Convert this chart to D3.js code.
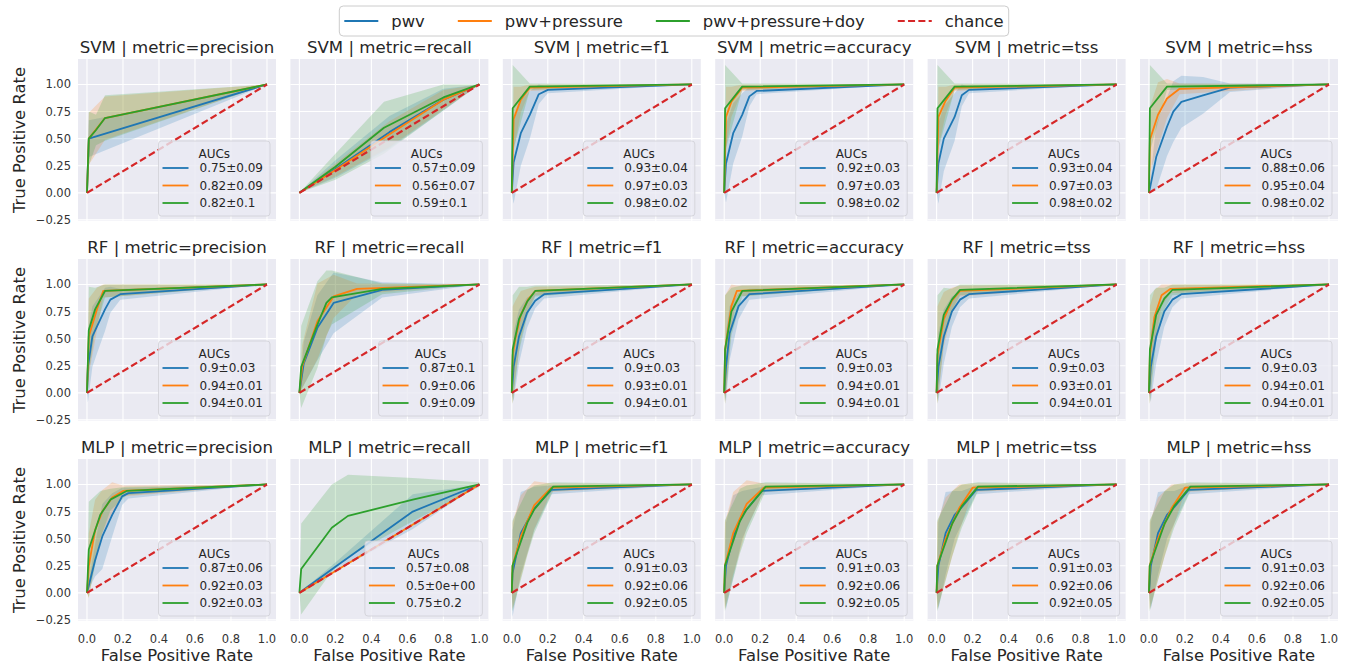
<!DOCTYPE html>
<html>
<head>
<meta charset="utf-8">
<script src="https://cdn.jsdelivr.net/npm/d3@7"></script>
<style>
    body { margin: 0; background: #fff; }
    svg text { font-family: 'DejaVu Sans', sans-serif; fill: #262626; }
</style>
</head>
<body>
<svg id="chart" width="1348" height="667"></svg>
<script>
/**
 * Data.
 * Each curve point is [false positive rate, mean true positive rate, std].
 */
const models = ['SVM', 'RF', 'MLP'];
const metrics = ['precision', 'recall', 'f1', 'accuracy', 'tss', 'hss'];
const features = ['pwv', 'pwv+pressure', 'pwv+pressure+doy'];
const xTicks = [0, 0.2, 0.4, 0.6, 0.8, 1.0];
const yTicks = [-0.25, 0, 0.25, 0.5, 0.75, 1.0];

const svmAucs = [
    ['0.75±0.09', '0.82±0.09', '0.82±0.1'],
    ['0.57±0.09', '0.56±0.07', '0.59±0.1'],
    ['0.93±0.04', '0.97±0.03', '0.98±0.02'],
    ['0.92±0.03', '0.97±0.03', '0.98±0.02'],
    ['0.93±0.04', '0.97±0.03', '0.98±0.02'],
    ['0.88±0.06', '0.95±0.04', '0.98±0.02']
];
const rfAucs = [
    ['0.9±0.03', '0.94±0.01', '0.94±0.01'],
    ['0.87±0.1', '0.9±0.06', '0.9±0.09'],
    ['0.9±0.03', '0.93±0.01', '0.94±0.01'],
    ['0.9±0.03', '0.94±0.01', '0.94±0.01'],
    ['0.9±0.03', '0.93±0.01', '0.94±0.01'],
    ['0.9±0.03', '0.94±0.01', '0.94±0.01']
];
const mlpAucs = [
    ['0.87±0.06', '0.92±0.03', '0.92±0.03'],
    ['0.57±0.08', '0.5±0e+00', '0.75±0.2'],
    ['0.91±0.03', '0.92±0.06', '0.92±0.05'],
    ['0.91±0.03', '0.92±0.06', '0.92±0.05'],
    ['0.91±0.03', '0.92±0.06', '0.92±0.05'],
    ['0.91±0.03', '0.92±0.06', '0.92±0.05']
];

const svmCurves = [
    [ // precision
        [[0, 0, 0], [0.01, 0.5, 0.17], [1, 1, 0]],
        [[0, 0, 0], [0.01, 0.5, 0.24], [0.1, 0.69, 0.2], [1, 1, 0]],
        [[0, 0, 0], [0.01, 0.5, 0.25], [0.05, 0.58, 0.14], [0.1, 0.69, 0.21], [1, 1, 0]]
    ],
    [ // recall
        [[0, 0, 0], [0.2, 0.22, 0.08], [0.5, 0.56, 0.15], [0.8, 0.86, 0.1], [1, 1, 0]],
        [[0, 0, 0], [0.2, 0.21, 0.06], [0.5, 0.54, 0.12], [0.8, 0.86, 0.09], [1, 1, 0]],
        [[0, 0, 0], [0.2, 0.24, 0.12], [0.47, 0.6, 0.24], [0.8, 0.88, 0.12], [1, 1, 0]]
    ],
    [ // f1
        [[0, 0, 0], [0.01, 0.28, 0.38], [0.05, 0.55, 0.3], [0.1, 0.72, 0.22], [0.15, 0.91, 0.09], [0.2, 0.95, 0.03], [1, 1, 0]],
        [[0, 0, 0], [0.01, 0.68, 0.3], [0.05, 0.86, 0.12], [0.1, 0.97, 0.03], [1, 1, 0]],
        [[0, 0, 0], [0.005, 0.78, 0.4], [0.1, 0.98, 0.03], [1, 1, 0]]
    ],
    [ // accuracy
        [[0, 0, 0], [0.01, 0.27, 0.36], [0.05, 0.55, 0.28], [0.1, 0.72, 0.2], [0.14, 0.89, 0.09], [0.18, 0.94, 0.03], [1, 1, 0]],
        [[0, 0, 0], [0.01, 0.7, 0.28], [0.04, 0.84, 0.14], [0.1, 0.97, 0.03], [1, 1, 0]],
        [[0, 0, 0], [0.005, 0.78, 0.4], [0.1, 0.98, 0.03], [1, 1, 0]]
    ],
    [ // tss
        [[0, 0, 0], [0.01, 0.27, 0.37], [0.04, 0.5, 0.3], [0.1, 0.7, 0.22], [0.14, 0.9, 0.1], [0.18, 0.95, 0.03], [1, 1, 0]],
        [[0, 0, 0], [0.01, 0.7, 0.28], [0.05, 0.85, 0.13], [0.1, 0.97, 0.03], [1, 1, 0]],
        [[0, 0, 0], [0.005, 0.78, 0.4], [0.1, 0.98, 0.03], [1, 1, 0]]
    ],
    [ // hss
        [[0, 0, 0], [0.04, 0.33, 0.3], [0.1, 0.61, 0.27], [0.135, 0.75, 0.28], [0.18, 0.84, 0.24], [0.3, 0.9, 0.17], [0.45, 0.97, 0.04], [1, 1, 0]],
        [[0, 0, 0], [0.005, 0.49, 0.3], [0.05, 0.72, 0.3], [0.1, 0.87, 0.18], [0.17, 0.96, 0.05], [1, 1, 0]],
        [[0, 0, 0], [0.005, 0.78, 0.4], [0.1, 0.98, 0.03], [1, 1, 0]]
    ]
];

const rfCurves = [
    [ // precision
        [[0, 0, 0], [0.005, 0.24, 0.33], [0.03, 0.52, 0.28], [0.055, 0.61, 0.25], [0.1, 0.77, 0.2], [0.13, 0.86, 0.12], [0.185, 0.91, 0.05], [1, 1, 0]],
        [[0, 0, 0], [0.01, 0.52, 0.35], [0.055, 0.77, 0.2], [0.09, 0.94, 0.06], [1, 1, 0]],
        [[0, 0, 0], [0.01, 0.58, 0.4], [0.045, 0.77, 0.2], [0.1, 0.94, 0.06], [1, 1, 0]]
    ],
    [ // recall
        [[0, 0, 0], [0.024, 0.27, 0.2], [0.1, 0.6, 0.3], [0.19, 0.83, 0.28], [0.46, 0.95, 0.07], [1, 1, 0]],
        [[0, 0, 0], [0.015, 0.24, 0.2], [0.1, 0.66, 0.35], [0.19, 0.89, 0.2], [0.32, 0.96, 0.05], [1, 1, 0]],
        [[0, 0, 0], [0.01, 0.24, 0.38], [0.1, 0.63, 0.4], [0.15, 0.83, 0.3], [0.18, 0.88, 0.25], [0.46, 0.96, 0.05], [1, 1, 0]]
    ],
    [ // f1
        [[0, 0, 0], [0.01, 0.24, 0.32], [0.04, 0.52, 0.25], [0.085, 0.74, 0.14], [0.13, 0.85, 0.07], [0.18, 0.91, 0.04], [1, 1, 0]],
        [[0, 0, 0], [0.005, 0.35, 0.45], [0.02, 0.5, 0.35], [0.05, 0.72, 0.22], [0.09, 0.86, 0.1], [0.13, 0.94, 0.04], [1, 1, 0]],
        [[0, 0, 0], [0.005, 0.4, 0.5], [0.04, 0.68, 0.3], [0.085, 0.84, 0.14], [0.13, 0.94, 0.05], [1, 1, 0]]
    ],
    [ // accuracy
        [[0, 0, 0], [0.01, 0.24, 0.32], [0.03, 0.55, 0.25], [0.08, 0.8, 0.12], [0.14, 0.91, 0.05], [1, 1, 0]],
        [[0, 0, 0], [0.005, 0.4, 0.5], [0.04, 0.8, 0.2], [0.07, 0.94, 0.05], [1, 1, 0]],
        [[0, 0, 0], [0.005, 0.4, 0.5], [0.04, 0.75, 0.22], [0.1, 0.94, 0.05], [1, 1, 0]]
    ],
    [ // tss
        [[0, 0, 0], [0.01, 0.24, 0.32], [0.04, 0.52, 0.25], [0.085, 0.75, 0.14], [0.13, 0.86, 0.07], [0.18, 0.91, 0.04], [1, 1, 0]],
        [[0, 0, 0], [0.005, 0.35, 0.45], [0.04, 0.68, 0.25], [0.085, 0.85, 0.12], [0.13, 0.94, 0.05], [1, 1, 0]],
        [[0, 0, 0], [0.005, 0.4, 0.5], [0.04, 0.72, 0.25], [0.085, 0.86, 0.1], [0.13, 0.95, 0.05], [1, 1, 0]]
    ],
    [ // hss
        [[0, 0, 0], [0.01, 0.24, 0.32], [0.04, 0.52, 0.25], [0.085, 0.75, 0.14], [0.13, 0.86, 0.07], [0.18, 0.91, 0.04], [1, 1, 0]],
        [[0, 0, 0], [0.005, 0.35, 0.45], [0.03, 0.7, 0.25], [0.07, 0.9, 0.1], [0.12, 0.96, 0.04], [1, 1, 0]],
        [[0, 0, 0], [0.005, 0.4, 0.5], [0.04, 0.72, 0.25], [0.085, 0.87, 0.1], [0.13, 0.95, 0.05], [1, 1, 0]]
    ]
];

const mlpCurves = [
    [ // precision
        [[0, 0, 0], [0.045, 0.3, 0.15], [0.085, 0.52, 0.3], [0.14, 0.72, 0.2], [0.195, 0.89, 0.08], [0.23, 0.92, 0.05], [1, 1, 0]],
        [[0, 0, 0], [0.01, 0.25, 0.3], [0.045, 0.58, 0.28], [0.085, 0.75, 0.2], [0.14, 0.88, 0.14], [0.2, 0.94, 0.05], [1, 1, 0]],
        [[0, 0, 0], [0.01, 0.4, 0.44], [0.074, 0.72, 0.22], [0.13, 0.86, 0.1], [0.22, 0.94, 0.04], [1, 1, 0]]
    ],
    [ // recall
        [[0, 0, 0], [0.2, 0.24, 0.04], [0.63, 0.75, 0.16], [1, 1, 0]],
        [[0, 0, 0], [1, 1, 0]],
        [[0, 0, 0], [0.01, 0.22, 0.42], [0.18, 0.6, 0.4], [0.27, 0.71, 0.38], [0.63, 0.86, 0.2], [1, 1, 0.02]]
    ],
    [ // f1
        [[0, 0, 0], [0.004, 0.18, 0.4], [0.05, 0.55, 0.38], [0.125, 0.78, 0.2], [0.22, 0.95, 0.04], [1, 1, 0]],
        [[0, 0, 0], [0.004, 0.25, 0.4], [0.05, 0.52, 0.38], [0.125, 0.81, 0.22], [0.22, 0.97, 0.04], [1, 1, 0]],
        [[0, 0, 0], [0.004, 0.25, 0.42], [0.087, 0.65, 0.3], [0.125, 0.77, 0.22], [0.23, 0.98, 0.04], [1, 1, 0]]
    ],
    [ // accuracy
        [[0, 0, 0], [0.01, 0.25, 0.4], [0.05, 0.52, 0.38], [0.1, 0.72, 0.22], [0.21, 0.94, 0.04], [1, 1, 0]],
        [[0, 0, 0], [0.004, 0.25, 0.4], [0.05, 0.55, 0.38], [0.125, 0.82, 0.22], [0.22, 0.97, 0.04], [1, 1, 0]],
        [[0, 0, 0], [0.004, 0.25, 0.42], [0.087, 0.66, 0.3], [0.125, 0.77, 0.22], [0.23, 0.98, 0.04], [1, 1, 0]]
    ],
    [ // tss
        [[0, 0, 0], [0.01, 0.25, 0.4], [0.05, 0.55, 0.38], [0.1, 0.72, 0.22], [0.14, 0.79, 0.15], [0.22, 0.95, 0.04], [1, 1, 0]],
        [[0, 0, 0], [0.004, 0.25, 0.4], [0.05, 0.5, 0.38], [0.125, 0.78, 0.22], [0.2, 0.97, 0.04], [1, 1, 0]],
        [[0, 0, 0], [0.004, 0.25, 0.42], [0.087, 0.64, 0.3], [0.14, 0.8, 0.2], [0.23, 0.98, 0.04], [1, 1, 0]]
    ],
    [ // hss
        [[0, 0, 0], [0.01, 0.25, 0.4], [0.05, 0.55, 0.38], [0.1, 0.72, 0.22], [0.14, 0.79, 0.15], [0.22, 0.95, 0.04], [1, 1, 0]],
        [[0, 0, 0], [0.004, 0.25, 0.4], [0.05, 0.5, 0.38], [0.125, 0.78, 0.22], [0.2, 0.97, 0.04], [1, 1, 0]],
        [[0, 0, 0], [0.004, 0.25, 0.42], [0.087, 0.64, 0.3], [0.14, 0.8, 0.2], [0.23, 0.98, 0.04], [1, 1, 0]]
    ]
];

/**
 * Visual configs.
 */
const colors = ['#1f77b4', '#ff7f0e', '#2ca02c'],
    chanceColor = '#d62728',
    panelBg = '#eaeaf2',
    panelW = 198, panelH = 162,
    left0 = 78, colStep = 212.4,
    top0 = 59, rowStep = 200;

const svg = d3.select('#chart');

const xScale = d3.scaleLinear().domain([-0.05, 1.05]).range([0, panelW]),
    yScale = d3.scaleLinear().domain([-0.26, 1.235]).range([panelH, 0]);

const band = d3.area()
    .x(d => xScale(d[0]))
    .y0(d => yScale(d[1] - d[2]))
    .y1(d => yScale(d[1] + d[2]));
const meanLine = d3.line()
    .x(d => xScale(d[0]))
    .y(d => yScale(d[1]));

const curvesByModel = [svmCurves, rfCurves, mlpCurves],
    aucsByModel = [svmAucs, rfAucs, mlpAucs];

models.forEach((model, r) => {
    metrics.forEach((metric, c) => {
        const g = svg.append('g')
            .attr('transform', 'translate(' + (left0 + c * colStep) + ',' + (top0 + r * rowStep) + ')');
        drawPanel(g, model + ' | metric=' + metric, curvesByModel[r][c], aucsByModel[r][c],
            c === 0, r === models.length - 1);
    });
});

// Row labels & column labels
models.forEach((m, r) => {
    const cy = top0 + r * rowStep + panelH / 2;
    svg.append('text')
        .attr('transform', 'translate(25,' + cy + ') rotate(-90)')
        .attr('text-anchor', 'middle')
        .style('font-size', '16.4px')
        .text('True Positive Rate');
});
metrics.forEach((m, c) => {
    svg.append('text')
        .attr('x', left0 + c * colStep + panelW / 2)
        .attr('y', 661)
        .attr('text-anchor', 'middle')
        .style('font-size', '16.4px')
        .text('False Positive Rate');
});

drawFigureLegend();

/**
 * Draws one subplot.
 */
function drawPanel(g, title, curves, aucs, showY, showX) {
    g.append('rect')
        .attr('width', panelW)
        .attr('height', panelH)
        .attr('fill', panelBg);

    // Grid
    g.selectAll('.gx').data(xTicks).enter().append('line')
        .attr('x1', d => xScale(d)).attr('x2', d => xScale(d))
        .attr('y1', 0).attr('y2', panelH)
        .attr('stroke', '#fff').attr('stroke-width', 1.1);
    g.selectAll('.gy').data(yTicks).enter().append('line')
        .attr('x1', 0).attr('x2', panelW)
        .attr('y1', d => yScale(d)).attr('y2', d => yScale(d))
        .attr('stroke', '#fff').attr('stroke-width', 1.1);

    // Bands then mean curves
    curves.forEach((pts, i) => {
        g.append('path')
            .attr('d', band(pts))
            .attr('fill', colors[i])
            .attr('fill-opacity', 0.2);
    });
    curves.forEach((pts, i) => {
        g.append('path')
            .attr('d', meanLine(pts))
            .attr('fill', 'none')
            .attr('stroke', colors[i])
            .attr('stroke-width', 1.8)
            .attr('stroke-linejoin', 'round');
    });

    // Chance diagonal
    g.append('line')
        .attr('x1', xScale(0)).attr('y1', yScale(0))
        .attr('x2', xScale(1)).attr('y2', yScale(1))
        .attr('stroke', chanceColor)
        .attr('stroke-width', 2.2)
        .attr('stroke-dasharray', '7,3.3');

    // Title
    g.append('text')
        .attr('x', panelW / 2)
        .attr('y', -6)
        .attr('text-anchor', 'middle')
        .style('font-size', '16.6px')
        .text(title);

    // Tick labels
    if (showY) {
        g.selectAll('.ty').data(yTicks).enter().append('text')
            .attr('x', -7)
            .attr('y', d => yScale(d) + 4)
            .attr('text-anchor', 'end')
            .style('font-size', '11.5px')
            .style('fill', '#333')
            .text(d => d3.format('.2f')(d).replace('-', '\u2212'));
    }
    if (showX) {
        g.selectAll('.tx').data(xTicks).enter().append('text')
            .attr('x', d => xScale(d))
            .attr('y', panelH + 22)
            .attr('text-anchor', 'middle')
            .style('font-size', '11.5px')
            .style('fill', '#333')
            .text(d => d3.format('.1f')(d));
    }

    // Inner AUC legend
    const leg = g.append('g');
    const box = leg.append('rect');
    const texts = aucs.map((a, i) => leg.append('text')
        .style('font-size', '12px')
        .text(a));
    const textW = d3.max(texts, t => t.node().getComputedTextLength());
    const boxW = 4 + 26 + 11 + textW + 7,
        boxH = 75,
        bx = panelW - 6 - boxW,
        by = panelH - 5 - boxH;
    box.attr('x', bx).attr('y', by)
        .attr('width', boxW).attr('height', boxH)
        .attr('rx', 3)
        .attr('fill', panelBg).attr('fill-opacity', 0.8)
        .attr('stroke', '#cfcfd6').attr('stroke-width', 0.8);
    leg.append('text')
        .attr('x', bx + boxW / 2)
        .attr('y', by + 17)
        .attr('text-anchor', 'middle')
        .style('font-size', '12px')
        .text('AUCs');
    texts.forEach((t, i) => {
        const cy = by + 27 + i * 17.5;
        leg.append('line')
            .attr('x1', bx + 4).attr('x2', bx + 30)
            .attr('y1', cy).attr('y2', cy)
            .attr('stroke', colors[i]).attr('stroke-width', 1.8);
        t.attr('x', bx + 41).attr('y', cy + 4.3);
    });
}

/**
 * Draws the shared legend at the top.
 */
function drawFigureLegend() {
    const entries = features.map((f, i) => ({ label: f, color: colors[i], dash: null }))
        .concat([{ label: 'chance', color: chanceColor, dash: '7,3.3' }]);
    const leg = svg.append('g');
    const box = leg.append('rect');
    let cx = 0;
    entries.forEach(e => {
        leg.append('line')
            .attr('x1', cx).attr('x2', cx + 34)
            .attr('y1', 21).attr('y2', 21)
            .attr('stroke', e.color)
            .attr('stroke-width', e.dash ? 2.2 : 1.8)
            .attr('stroke-dasharray', e.dash);
        const t = leg.append('text')
            .attr('x', cx + 47)
            .attr('y', 27)
            .style('font-size', '16.4px')
            .text(e.label);
        cx += 47 + t.node().getComputedTextLength() + 33;
    });
    const innerW = cx - 33;
    const boxW = innerW + 10;
    const x0 = 674 - boxW / 2;
    box.attr('x', -5).attr('y', 6)
        .attr('width', boxW).attr('height', 30)
        .attr('rx', 4)
        .attr('fill', '#fff')
        .attr('stroke', '#cccccc');
    leg.attr('transform', 'translate(' + (x0 + 5) + ',0)');
}
</script>
</body>
</html>
